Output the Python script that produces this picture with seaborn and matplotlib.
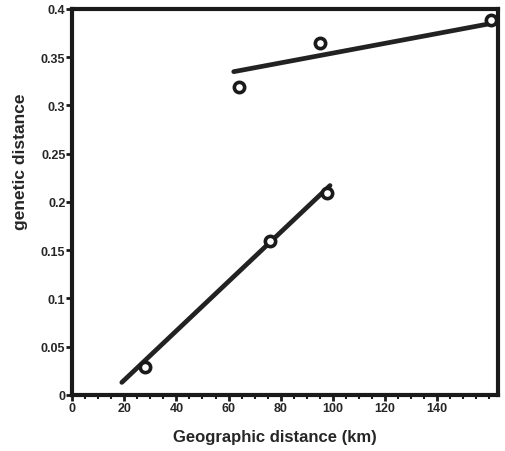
import numpy as np
import pandas as pd
import matplotlib
matplotlib.use('Agg')
import matplotlib.pyplot as plt
import seaborn as sns
from matplotlib.ticker import MultipleLocator, FuncFormatter

# points
low_x = [28, 76, 98]
low_y = [0.029, 0.160, 0.209]
high_x = [64, 95, 161]
high_y = [0.319, 0.365, 0.389]

# fitted lines (end points as drawn)
low_fit_x = [19, 99]
low_fit_y = [0.013, 0.217]
high_fit_x = [62, 161]
high_fit_y = [0.335, 0.385]

sns.set_theme(style='ticks')
plt.rcParams['font.family'] = ['Liberation Sans', 'DejaVu Sans']

fig = plt.figure(figsize=(5.06, 4.52), dpi=100)
ax = fig.add_axes([0.143, 0.124, 0.841, 0.854])

sns.lineplot(x=low_fit_x, y=low_fit_y, ax=ax, color='#222222', linewidth=3.4)
sns.lineplot(x=high_fit_x, y=high_fit_y, ax=ax, color='#222222', linewidth=3.4)
pts = pd.DataFrame({'x': low_x + high_x, 'y': low_y + high_y})
sns.scatterplot(data=pts, x='x', y='y', ax=ax, s=55, facecolor='white',
                edgecolor='#1a1a1a', linewidth=2.6, zorder=5)

ax.set_xlim(0, 163.5)
ax.set_ylim(0, 0.4)
ax.xaxis.set_minor_locator(MultipleLocator(5))
ax.yaxis.set_major_locator(MultipleLocator(0.05))
ax.set_xticks(np.arange(0, 141, 20))
ax.yaxis.set_major_formatter(FuncFormatter(lambda v, p: ('%.2f' % v).rstrip('0').rstrip('.')))

for s in ax.spines.values():
    s.set_linewidth(3)
    s.set_color('#1a1a1a')
ax.tick_params(axis='both', which='major', length=4, width=2, labelsize=9, pad=1, color='#1a1a1a')
ax.tick_params(axis='x', which='minor', length=3, width=1.5, color='#1a1a1a')
for lab in ax.get_xticklabels() + ax.get_yticklabels():
    lab.set_fontweight('bold')

ax.set_xlabel('Geographic distance (km)', fontsize=12, fontweight='bold')
ax.set_ylabel('genetic distance', fontsize=12.5, fontweight='bold')
ax.xaxis.set_label_coords(0.477, -0.088)
ax.yaxis.set_label_coords(-0.105, 0.606)

fig.savefig('out.png', dpi=100)
